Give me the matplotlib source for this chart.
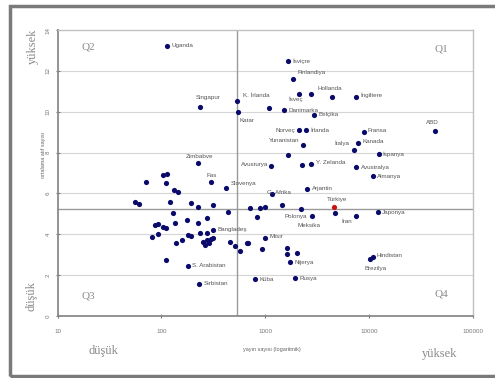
import matplotlib
matplotlib.use("Agg")
import matplotlib.pyplot as plt
from matplotlib.patches import Rectangle

# publications (x, log scale) and average citations (y) per country
names = [
    "Uganda", "İsviçre", "Finlandiya", "Hollanda", "İngiltere", "İsveç", "", "Danimarka",
    "Belçika", "", "K. İrlanda", "Katar", "Singapur", "Norveç", "İrlanda", "Yunanistan",
    "Fransa", "Kanada", "İtalya", "İspanya", "Avustralya", "Almanya", "ABD", "",
    "Avusturya", "", "Y. Zelanda", "G. Afrika", "Arjantin", "Türkiye", "Polonya", "Meksika",
    "İran", "Japonya", "Hindistan", "Brezilya", "Bangladeş", "Mısır", "Nijerya", "Küba",
    "Rusya", "S. Arabistan", "Sırbistan", "Zimbabve", "Fas", "Slovenya",
]
pubs = [
    114, 1670, 1866, 4436, 7551, 2133, 1096, 1528,
    2974, 2785, 538, 550, 237, 2133, 2490, 2330,
    8830, 7900, 7079, 12330, 7551, 10790, 42760, 1670,
    1146, 2280, 2785, 1170, 2547, 4636, 2846, 4742,
    7551, 12050, 10790, 10090, 316, 1002, 1746, 803,
    1950, 181, 232, 226, 302, 422,
]
cites = [
    13.22, 12.48, 11.60, 10.72, 10.72, 10.87, 10.18, 10.08,
    9.84, 10.87, 10.52, 9.99, 10.23, 9.10, 9.10, 8.37,
    9.01, 8.47, 8.13, 7.93, 7.29, 6.85, 9.06, 7.88,
    7.34, 7.39, 7.44, 5.97, 6.22, 5.34, 4.89, 5.04,
    4.89, 5.09, 2.89, 2.79, 4.21, 3.82, 2.64, 1.81,
    1.86, 2.45, 1.57, 7.49, 6.56, 6.27,
]

# unlabeled countries
other_pubs = [
    56, 61, 71, 104, 114, 111, 133, 145, 122, 130, 194, 226, 316, 441,
    87, 93, 104, 111, 136, 177, 277, 226, 82, 93, 139, 159, 181, 194,
    253, 264, 277, 289, 302, 316, 237, 277, 460, 515, 575, 671, 111,
    718, 897, 1002, 1462, 2230, 839, 687, 938, 1633, 1633, 2040,
]
other_cites = [
    5.58, 5.48, 6.56, 6.90, 6.95, 6.51, 6.17, 6.07, 5.58, 5.04, 5.53, 5.34, 5.43, 5.09,
    4.45, 4.50, 4.36, 4.31, 4.55, 4.70, 4.80, 4.55, 3.87, 4.01, 3.57, 3.72, 3.96, 3.92,
    3.62, 3.48, 3.72, 3.57, 3.77, 3.82, 4.06, 4.06, 3.62, 3.43, 3.18, 3.57, 2.74,
    5.29, 5.29, 5.34, 5.43, 5.24, 4.85, 3.57, 3.28, 3.33, 3.03, 3.08,
]

x_split = 538
y_split = 5.24

# label placement (offset points, alignment)
offsets = {
    "Uganda": (3, 0, "left"), "İsviçre": (3, 0, "left"), "Finlandiya": (3, 5, "left"),
    "Hollanda": (-2, 6, "center"), "İngiltere": (3, 1, "left"), "İsveç": (-3, -4, "center"),
    "Danimarka": (3, 0, "left"), "Belçika": (3, 0, "left"), "K. İrlanda": (4, 4, "left"),
    "Katar": (1, -6, "left"), "Singapur": (-3, 7, "left"), "Norveç": (-3, 0, "right"),
    "İrlanda": (3, 0, "left"), "Yunanistan": (-3, 3, "right"), "Fransa": (3, 1, "left"),
    "Kanada": (3, 1, "left"), "İtalya": (-3, 5, "right"), "İspanya": (3, 0, "left"),
    "Avustralya": (3, 0, "left"), "Almanya": (3, 0, "left"), "ABD": (-2, 6, "center"),
    "Avusturya": (-2, 1, "right"), "Y. Zelanda": (3, 1, "left"), "G. Afrika": (-4, 1, "left"),
    "Arjantin": (3, 0, "left"), "Türkiye": (2, 5, "center"), "Polonya": (-4, 0, "right"),
    "Meksika": (-11, -9, "right"), "İran": (-3, -4, "right"), "Japonya": (3, 0, "left"),
    "Hindistan": (3, 1, "left"), "Brezilya": (4, -7, "center"), "Bangladeş": (3, 0, "left"),
    "Mısır": (3, 1, "left"), "Nijerya": (3, 0, "left"), "Küba": (3, 0, "left"),
    "Rusya": (3, 0, "left"), "S. Arabistan": (3, 0, "left"), "Sırbistan": (3, 0, "left"),
    "Zimbabve": (1, 5, "center"), "Fas": (0, 5, "center"), "Slovenya": (3, 3, "left"),
}

plt.rcParams['font.family'] = ['Liberation Sans', 'DejaVu Sans']
fig = plt.figure(figsize=(4.95, 3.78), dpi=100)
ax = fig.add_axes([57.5 / 495, 1 - 316 / 378, (473 - 57.5) / 495, (316 - 30) / 378])

# outer frame
fig.patches.append(Rectangle((10 / 495, 1 - 376 / 378), 1.0, (376 - 6) / 378,
                             transform=fig.transFigure, fill=False,
                             edgecolor='#7a7a7a', linewidth=2.5))

ax.set_xscale('log')
ax.set_xlim(10, 100000)
ax.set_ylim(0, 14)
ax.set_yticks(range(0, 15, 2))
ax.set_xticks([10, 100, 1000, 10000, 100000])
ax.set_xticklabels(['10', '100', '1000', '10000', '100000'])
ax.minorticks_off()
ax.tick_params(axis='both', labelsize=4.5, colors='#777777', length=3,
               direction='inout', width=0.8)
ax.tick_params(axis='x', pad=8)
for lab in ax.get_yticklabels():
    lab.set_rotation(90)
    lab.set_va('center')

for y in range(2, 14, 2):
    ax.axhline(y, color='#d5d5d5', lw=0.8, zorder=0)
ax.axvline(x_split, color='#9a9a9a', lw=1.0, zorder=1)
ax.axhline(y_split, color='#9a9a9a', lw=1.0, zorder=1)

for s in ['left', 'bottom']:
    ax.spines[s].set_color('#8a8a8a')
    ax.spines[s].set_linewidth(1.3)
for s in ['top', 'right']:
    ax.spines[s].set_color('#c0c0c0')
    ax.spines[s].set_linewidth(1.0)

ax.scatter(other_pubs, other_cites, s=14, color='#0a0a6a', zorder=3, linewidths=0)
for n, xv, yv in zip(names, pubs, cites):
    col = '#cc1111' if n == "Türkiye" else '#0a0a6a'
    ax.scatter([xv], [yv], s=14, color=col, zorder=3, linewidths=0)
    if n:
        dx, dy, ha = offsets[n]
        ax.annotate(n, (xv, yv), xytext=(dx, dy), textcoords='offset points',
                    fontsize=4.5, color='#555555', ha=ha, va='center')

# quadrant labels
qfont = dict(family='Liberation Serif', fontsize=8, color='#8a8a8a')
ax.text(0.075, 0.94, 'Q2', transform=ax.transAxes, ha='center', va='center', **qfont)
ax.text(0.925, 0.935, 'Q1', transform=ax.transAxes, ha='center', va='center', **qfont)
ax.text(0.075, 0.07, 'Q3', transform=ax.transAxes, ha='center', va='center', **qfont)
ax.text(0.925, 0.078, 'Q4', transform=ax.transAxes, ha='center', va='center', **qfont)

# axis titles
sfont = dict(family='Liberation Serif', fontsize=9, color='#8a8a8a')
fig.text(103 / 495, 1 - 351 / 378, 'düşük', ha='center', va='center', **sfont)
fig.text(440 / 495, 1 - 354 / 378, 'yüksek', ha='center', va='center', **sfont)
fig.text(272 / 495, 1 - 350 / 378, 'yayın sayısı (logaritmik)', ha='center',
         va='center', fontsize=4, color='#666666')
fig.text(33 / 495, 1 - 46 / 378, 'yüksek', ha='center', va='center', rotation=90, **sfont)
fig.text(31 / 495, 1 - 296 / 378, 'düşük', ha='center', va='center', rotation=90, **sfont)
fig.text(43 / 495, 1 - 155 / 378, 'ortalama atıf sayısı', ha='center', va='center',
         rotation=90, fontsize=4, color='#666666')

fig.savefig('out.png', dpi=100)
